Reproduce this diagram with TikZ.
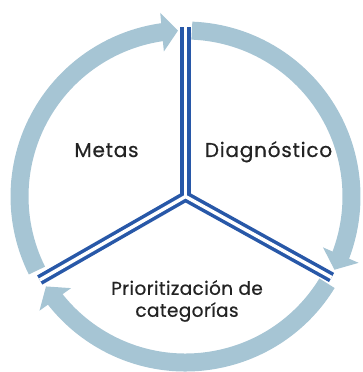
\documentclass[tikz,border=0pt]{standalone}
\usepackage{fontspec}
\setmainfont{Poppins}[FakeBold=0.6]
\newfontfamily\phaseFont{Poppins}[FakeBold=0.6, LetterSpace=4]
\newfontfamily\phaseFontSmall{Poppins}[FakeBold=0.6, LetterSpace=2]
\usetikzlibrary{arrows.meta, bending, calc}
\definecolor{cCycleBand}{RGB}{166, 197, 212}
\definecolor{cSpoke}{RGB}{40, 88, 168}
\definecolor{cText}{RGB}{35, 35, 35}
\tikzset{
    % --- ciclo ---
    cycleBand/.style={
        draw=cCycleBand, line width=18pt, line cap=butt,
        -{Triangle[length=16pt, width=38pt]}
    },
    % --- radios dobles ---
    spokeOuter/.style={ draw=cSpoke, line width=10.5pt, line cap=butt },
    spokeInner/.style={ draw=white, line width=3.4pt, line cap=butt },
    % --- textos ---
    phaseLabel/.style={
        text=cText, inner sep=0pt, anchor=base,
        font=\phaseFont\fontsize{20}{22}\selectfont
    },
    phaseLabelSmall/.style={
        text=cText, inner sep=0pt, align=center,
        font=\phaseFontSmall\fontsize{18.5}{22}\selectfont
    }
}
\begin{document}
\begin{tikzpicture}[x=1pt, y=1pt]

	\useasboundingbox (0,0) rectangle (362,372);

	% =========================================
	% 1. Centro y extremos
	% =========================================
	\coordinate (ctr) at (185.5,175.5);
	\coordinate (spokeTop) at ($(ctr)+(90:169)$);
	\coordinate (spokeRight) at ($(ctr)+(-29:167)$);
	\coordinate (spokeLeft) at ($(ctr)+(209.8:168)$);

	% =========================================
	% 2. Flechas del ciclo
	% =========================================
	\coordinate (arcMetasIn) at ($(ctr)+(206.5:166)$);
	\coordinate (arcDiagIn) at ($(ctr)+(87.8:166)$);
	\coordinate (arcPriorIn) at ($(ctr)+(-31.5:166)$);

	\draw [cycleBand] (arcMetasIn) arc[start angle=206.5, end angle=92.6, radius=166];
	\draw [cycleBand] (arcDiagIn) arc[start angle=87.8, end angle=-26.2, radius=166];
	\draw [cycleBand] (arcPriorIn) arc[start angle=-31.5, end angle=-147.2, radius=166];

	% =========================================
	% 3. Radios
	% =========================================
	\draw [spokeOuter] (ctr) -- (spokeTop);
	\draw [spokeOuter] (ctr) -- (spokeRight);
	\draw [spokeOuter] (ctr) -- (spokeLeft);
	\draw [spokeInner] (ctr) -- (spokeTop);
	\draw [spokeInner] (ctr) -- (spokeRight);
	\draw [spokeInner] (ctr) -- (spokeLeft);
	\fill [white] (ctr) circle (1.7pt);

	% =========================================
	% 4. Textos
	% =========================================
	\node [phaseLabel] (metas) at (106.5,215) {Metas};
	\node [phaseLabel] (diag) at (268.5,215) {Diagnóstico};
	\node [phaseLabelSmall] (prior) at (187,71) {Prioritización de\\categorías};

\end{tikzpicture}
\end{document}
